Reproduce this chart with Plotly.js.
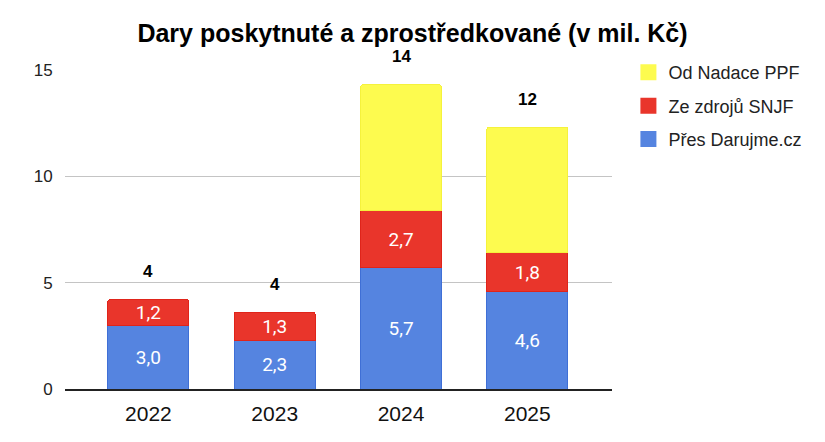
<!DOCTYPE html>
<html>
<head>
<meta charset="utf-8">
<script src="https://cdn.plot.ly/plotly-3.0.1.min.js"></script>
<style>html,body{margin:0;padding:0;background:#fff;}#chart{width:825px;height:442px;}</style>
</head>
<body>
<div id="chart"></div>
<script>
const years = ['2022', '2023', '2024', '2025'];
const darujme = [3.0, 2.3, 5.7, 4.6];
const snjf = [1.2, 1.3, 2.7, 1.8];
const ppf = [null, null, 5.9, 5.9];
const seriesNames = ['Přes Darujme.cz', 'Ze zdrojů SNJF', 'Od Nadace PPF'];
const seriesColors = ['#5584e0', '#e9352b', '#fdfb4f'];
const yTicks = [0, 5, 10, 15];

const totals = years.map((_, i) => (darujme[i] || 0) + (snjf[i] || 0) + (ppf[i] || 0));

const segFont = {family: 'Roboto, Liberation Sans, Arial', size: 19, color: '#ffffff'};
const common = {
  type: 'bar', x: years, width: 0.64, showlegend: false,
  textposition: 'inside', insidetextanchor: 'middle', constraintext: 'none',
  textfont: segFont, hoverinfo: 'skip'
};

const traces = [
  Object.assign({}, common, {
    name: seriesNames[0], y: darujme,
    marker: {color: seriesColors[0], line: {color: '#3f6fd6', width: 1}},
    texttemplate: '%{y:.1f}'
  }),
  Object.assign({}, common, {
    name: seriesNames[1], y: snjf,
    marker: {color: seriesColors[1], line: {color: '#e0241a', width: 1}},
    texttemplate: '%{y:.1f}'
  }),
  Object.assign({}, common, {
    name: seriesNames[2], y: ppf,
    marker: {color: seriesColors[2], line: {color: '#f5f23c', width: 1}},
    texttemplate: ''
  })
];

// legend entries (top to bottom: PPF, SNJF, Darujme)
[2, 1, 0].forEach((k, r) => {
  traces.push({
    type: 'scatter', mode: 'markers', x: [null], y: [null],
    name: seriesNames[k], legendgroup: 'g' + r, legendrank: r + 1,
    marker: {symbol: 'square', size: 19, color: seriesColors[k], line: {width: 0}},
    hoverinfo: 'skip', showlegend: true
  });
});

const annotations = years.map((yr, i) => ({
  x: i, y: totals[i], xref: 'x', yref: 'y',
  text: '<b>' + String(Math.round(totals[i])) + '</b>',
  showarrow: false, yanchor: 'middle', yshift: 28,
  font: {family: 'Liberation Sans, Arial', size: 17, color: '#000'}
}));

const layout = {
  width: 825, height: 442,
  margin: {l: 65, r: 213, t: 70, b: 53},
  paper_bgcolor: '#ffffff', plot_bgcolor: '#ffffff',
  separators: ', ',
  barmode: 'stack',
  barcornerradius: 2,
  font: {family: 'Liberation Sans, Arial', color: '#222'},
  title: {
    text: '<b>Dary poskytnuté a zprostředkované (v mil. Kč)</b>',
    x: 0.5, xref: 'container', xanchor: 'center', y: 0.925, yref: 'container', yanchor: 'middle',
    font: {family: 'Liberation Sans, Arial', size: 25, color: '#000'}
  },
  xaxis: {
    type: 'category', range: [-0.66, 3.67],
    tickfont: {size: 21, color: '#111'},
    ticks: 'outside', ticklen: 5, tickcolor: 'rgba(0,0,0,0)',
    showgrid: false, showline: true, linecolor: '#222', linewidth: 1.5,
    fixedrange: true
  },
  yaxis: {
    range: [0, 15], tickvals: yTicks, ticktext: yTicks.map(String),
    tickfont: {size: 17, color: '#222'},
    ticks: 'outside', ticklen: 8, tickcolor: 'rgba(0,0,0,0)',
    showgrid: true, gridcolor: '#c4c4c4', gridwidth: 1.5,
    zeroline: false, showline: false, fixedrange: true
  },
  legend: {
    x: 1.03, xanchor: 'left', y: 1.05, yanchor: 'top',
    traceorder: 'grouped', tracegroupgap: 7,
    font: {family: 'Liberation Sans, Arial', size: 18, color: '#222'},
    itemsizing: 'trace', itemwidth: 30
  },
  annotations: annotations,
  showlegend: true
};

Plotly.newPlot('chart', traces, layout, {displayModeBar: false, staticPlot: true});
</script>
</body>
</html>
